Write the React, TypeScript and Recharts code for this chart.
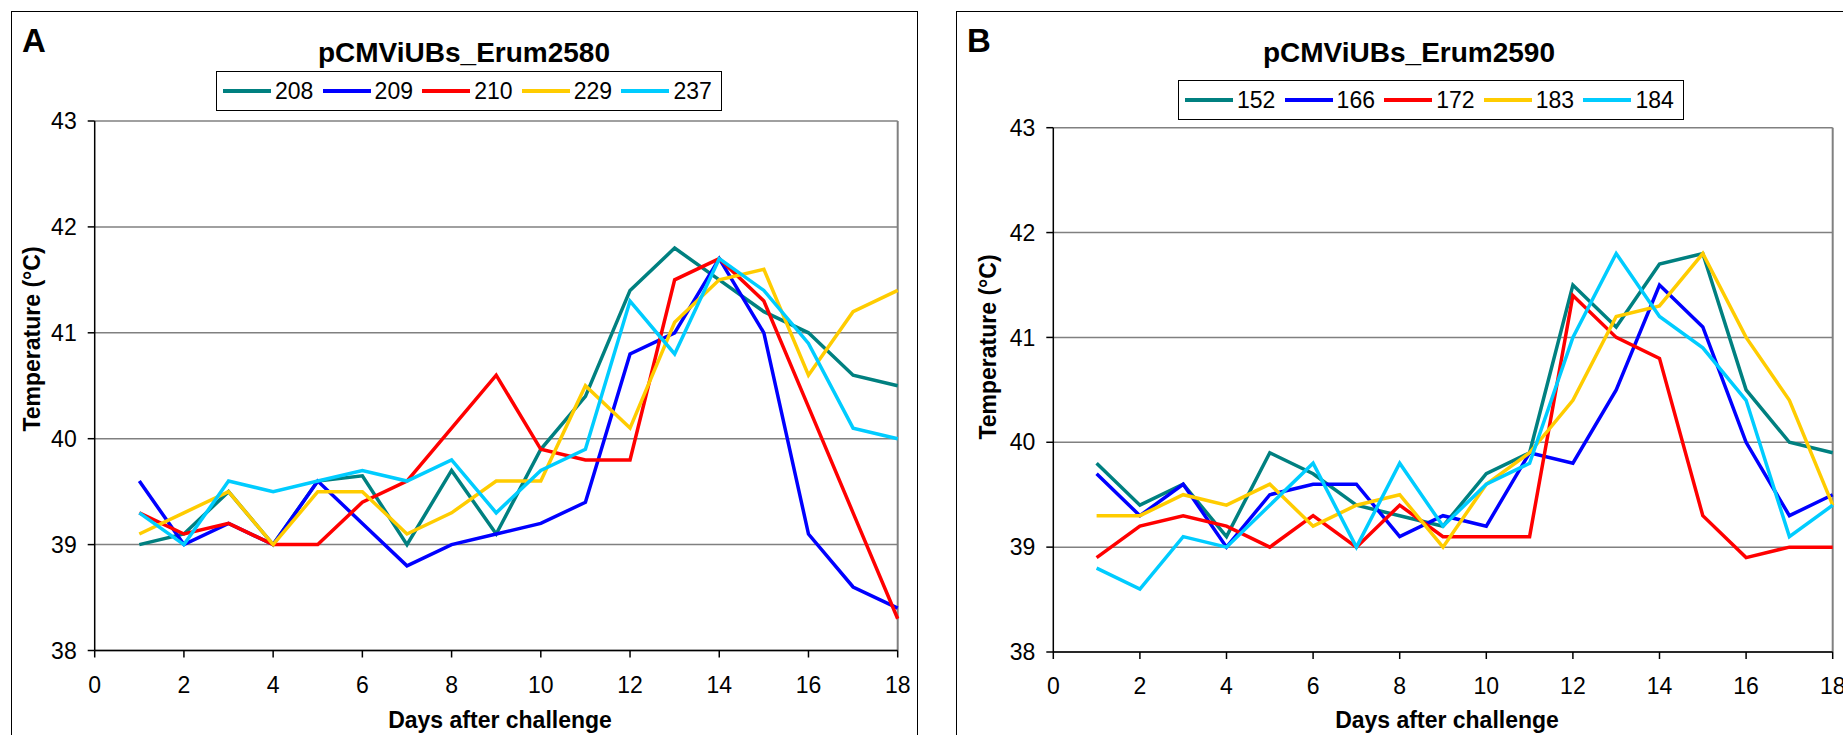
import React from "react"
import { LineChart, Line, XAxis, YAxis, CartesianGrid, ReferenceLine } from "recharts"

const DAYS = [1, 2, 3, 4, 5, 6, 7, 8, 9, 10, 11, 12, 13, 14, 15, 16, 17, 18]
const X_TICKS = [0, 2, 4, 6, 8, 10, 12, 14, 16, 18]
const Y_TICKS = [38, 39, 40, 41, 42, 43]

const COLORS = ["#008080", "#0000FF", "#FF0000", "#FFCC00", "#00CCFF"]

// Panel A – pCMViUBs_Erum2580
const A_NAMES = ["208", "209", "210", "229", "237"]
const A_208 = [39.0, 39.1, 39.5, 39.0, 39.6, 39.65, 39.0, 39.7, 39.1, 39.9, 40.4, 41.4, 41.8, 41.5, 41.2, 41.0, 40.6, 40.5]
const A_209 = [39.6, 39.0, 39.2, 39.0, 39.6, 39.2, 38.8, 39.0, 39.1, 39.2, 39.4, 40.8, 41.0, 41.7, 41.0, 39.1, 38.6, 38.4]
const A_210 = [39.3, 39.1, 39.2, 39.0, 39.0, 39.4, 39.6, 40.1, 40.6, 39.9, 39.8, 39.8, 41.5, 41.7, 41.3, 40.3, 39.3, 38.3]
const A_229 = [39.1, 39.3, 39.5, 39.0, 39.5, 39.5, 39.1, 39.3, 39.6, 39.6, 40.5, 40.1, 41.1, 41.5, 41.6, 40.6, 41.2, 41.4]
const A_237 = [39.3, 39.0, 39.6, 39.5, 39.6, 39.7, 39.6, 39.8, 39.3, 39.7, 39.9, 41.3, 40.8, 41.7, 41.4, 40.9, 40.1, 40.0]

// Panel B – pCMViUBs_Erum2590
const B_NAMES = ["152", "166", "172", "183", "184"]
const B_152 = [39.8, 39.4, 39.6, 39.1, 39.9, 39.7, 39.4, 39.3, 39.2, 39.7, 39.9, 41.5, 41.1, 41.7, 41.8, 40.5, 40.0, 39.9]
const B_166 = [39.7, 39.3, 39.6, 39.0, 39.5, 39.6, 39.6, 39.1, 39.3, 39.2, 39.9, 39.8, 40.5, 41.5, 41.1, 40.0, 39.3, 39.5]
const B_172 = [38.9, 39.2, 39.3, 39.2, 39.0, 39.3, 39.0, 39.4, 39.1, 39.1, 39.1, 41.4, 41.0, 40.8, 39.3, 38.9, 39.0, 39.0]
const B_183 = [39.3, 39.3, 39.5, 39.4, 39.6, 39.2, 39.4, 39.5, 39.0, 39.6, 39.9, 40.4, 41.2, 41.3, 41.8, 41.0, 40.4, 39.4]
const B_184 = [38.8, 38.6, 39.1, 39.0, 39.4, 39.8, 39.0, 39.8, 39.2, 39.6, 39.8, 41.0, 41.8, 41.2, 40.9, 40.4, 39.1, 39.4]

const FONT = "'Liberation Sans', Arial, sans-serif"

function buildRows(names: string[], series: number[][]) {
  return DAYS.map((day, i) => {
    const row: Record<string, number> = { day }
    names.forEach((n, k) => {
      row[n] = series[k][i]
    })
    return row
  })
}

type PanelProps = {
  letter: string
  title: string
  names: string[]
  series: number[][]
  boxLeft: number
  boxWidth: number
  chartLeft: number
  chartWidth: number
  margin: { top: number; right: number; bottom: number; left: number }
  legendLeft: number
  legendTop: number
  yLabel: { x: number; y: number }
  xLabelX: number
}

function Panel(p: PanelProps) {
  const rows = buildRows(p.names, p.series)
  const tickStyle = { fill: "#000", fontSize: 23, fontFamily: FONT }
  return (
    <>
      {/* panel frame */}
      <div
        style={{
          position: "absolute",
          left: p.boxLeft,
          top: 11,
          width: p.boxWidth,
          height: 800,
          border: "1.5px solid #000",
          boxSizing: "border-box",
        }}
      />
      <div style={{ position: "absolute", left: p.boxLeft + 11, top: 24, fontSize: 33, fontWeight: 700, lineHeight: 1 }}>
        {p.letter}
      </div>
      <div
        style={{
          position: "absolute",
          left: p.boxLeft,
          width: 906,
          top: 39,
          textAlign: "center",
          fontSize: 28,
          fontWeight: 700,
          lineHeight: 1,
        }}
      >
        {p.title}
      </div>

      {/* legend */}
      <div
        style={{
          position: "absolute",
          left: p.legendLeft,
          top: p.legendTop,
          width: 506,
          height: 40,
          border: "1.5px solid #000",
          boxSizing: "border-box",
          display: "flex",
          alignItems: "center",
          paddingLeft: 6,
        }}
      >
        {p.names.map((n, k) => (
          <div key={n} style={{ width: 100, display: "flex", alignItems: "center" }}>
            <div style={{ width: 48, height: 4, background: COLORS[k] }} />
            <span style={{ fontSize: 23, marginLeft: 4, lineHeight: 1 }}>{n}</span>
          </div>
        ))}
      </div>

      <div style={{ position: "absolute", left: p.chartLeft, top: 0 }}>
        <LineChart width={p.chartWidth} height={735} data={rows} margin={p.margin}>
          <CartesianGrid vertical={false} stroke="#808080" strokeWidth={1.5} />
          <XAxis
            dataKey="day"
            type="number"
            domain={[0, 18]}
            ticks={X_TICKS}
            interval={0}
            height={40}
            tick={tickStyle}
            tickSize={7}
            tickMargin={19}
            axisLine={{ stroke: "#000", strokeWidth: 1.5 }}
            tickLine={{ stroke: "#000", strokeWidth: 1.5 }}
          />
          <YAxis
            type="number"
            domain={[38, 43]}
            ticks={Y_TICKS}
            interval={0}
            width={60}
            tick={tickStyle}
            tickSize={7}
            tickMargin={11}
            axisLine={{ stroke: "#000", strokeWidth: 1.5 }}
            tickLine={{ stroke: "#000", strokeWidth: 1.5 }}
          />
          <ReferenceLine x={18} stroke="#808080" strokeWidth={2} />
          {p.names.map((n, k) => (
            <Line
              key={n}
              dataKey={n}
              type="linear"
              stroke={COLORS[k]}
              strokeWidth={3.5}
              dot={false}
              activeDot={false}
              isAnimationActive={false}
            />
          ))}
        </LineChart>
      </div>

      {/* axis titles */}
      <div
        style={{
          position: "absolute",
          left: p.yLabel.x - 150,
          top: p.yLabel.y - 15,
          width: 300,
          height: 30,
          lineHeight: "30px",
          textAlign: "center",
          fontSize: 23,
          fontWeight: 700,
          transform: "rotate(-90deg)",
        }}
      >
        Temperature (°C)
      </div>
      <div
        style={{
          position: "absolute",
          left: p.xLabelX - 200,
          top: 709,
          width: 400,
          textAlign: "center",
          fontSize: 23,
          fontWeight: 700,
          lineHeight: 1,
        }}
      >
        Days after challenge
      </div>
    </>
  )
}

export default function App() {
  return (
    <div
      style={{
        position: "absolute",
        left: 0,
        top: 0,
        width: 1843,
        height: 735,
        overflow: "hidden",
        background: "#fff",
        fontFamily: FONT,
        color: "#000",
      }}
    >
      <Panel
        letter="A"
        title="pCMViUBs_Erum2580"
        names={A_NAMES}
        series={[A_208, A_209, A_210, A_229, A_237]}
        boxLeft={11}
        boxWidth={907}
        chartLeft={0}
        chartWidth={920}
        margin={{ top: 121, right: 22.3, bottom: 44.5, left: 34.7 }}
        legendLeft={216}
        legendTop={71}
        yLabel={{ x: 32, y: 339 }}
        xLabelX={500}
      />
      <Panel
        letter="B"
        title="pCMViUBs_Erum2590"
        names={B_NAMES}
        series={[B_152, B_166, B_172, B_183, B_184]}
        boxLeft={956}
        boxWidth={907}
        chartLeft={920}
        chartWidth={923}
        margin={{ top: 127.7, right: 10.3, bottom: 43, left: 73.3 }}
        legendLeft={1178}
        legendTop={80}
        yLabel={{ x: 988, y: 347 }}
        xLabelX={1447}
      />
    </div>
  )
}
